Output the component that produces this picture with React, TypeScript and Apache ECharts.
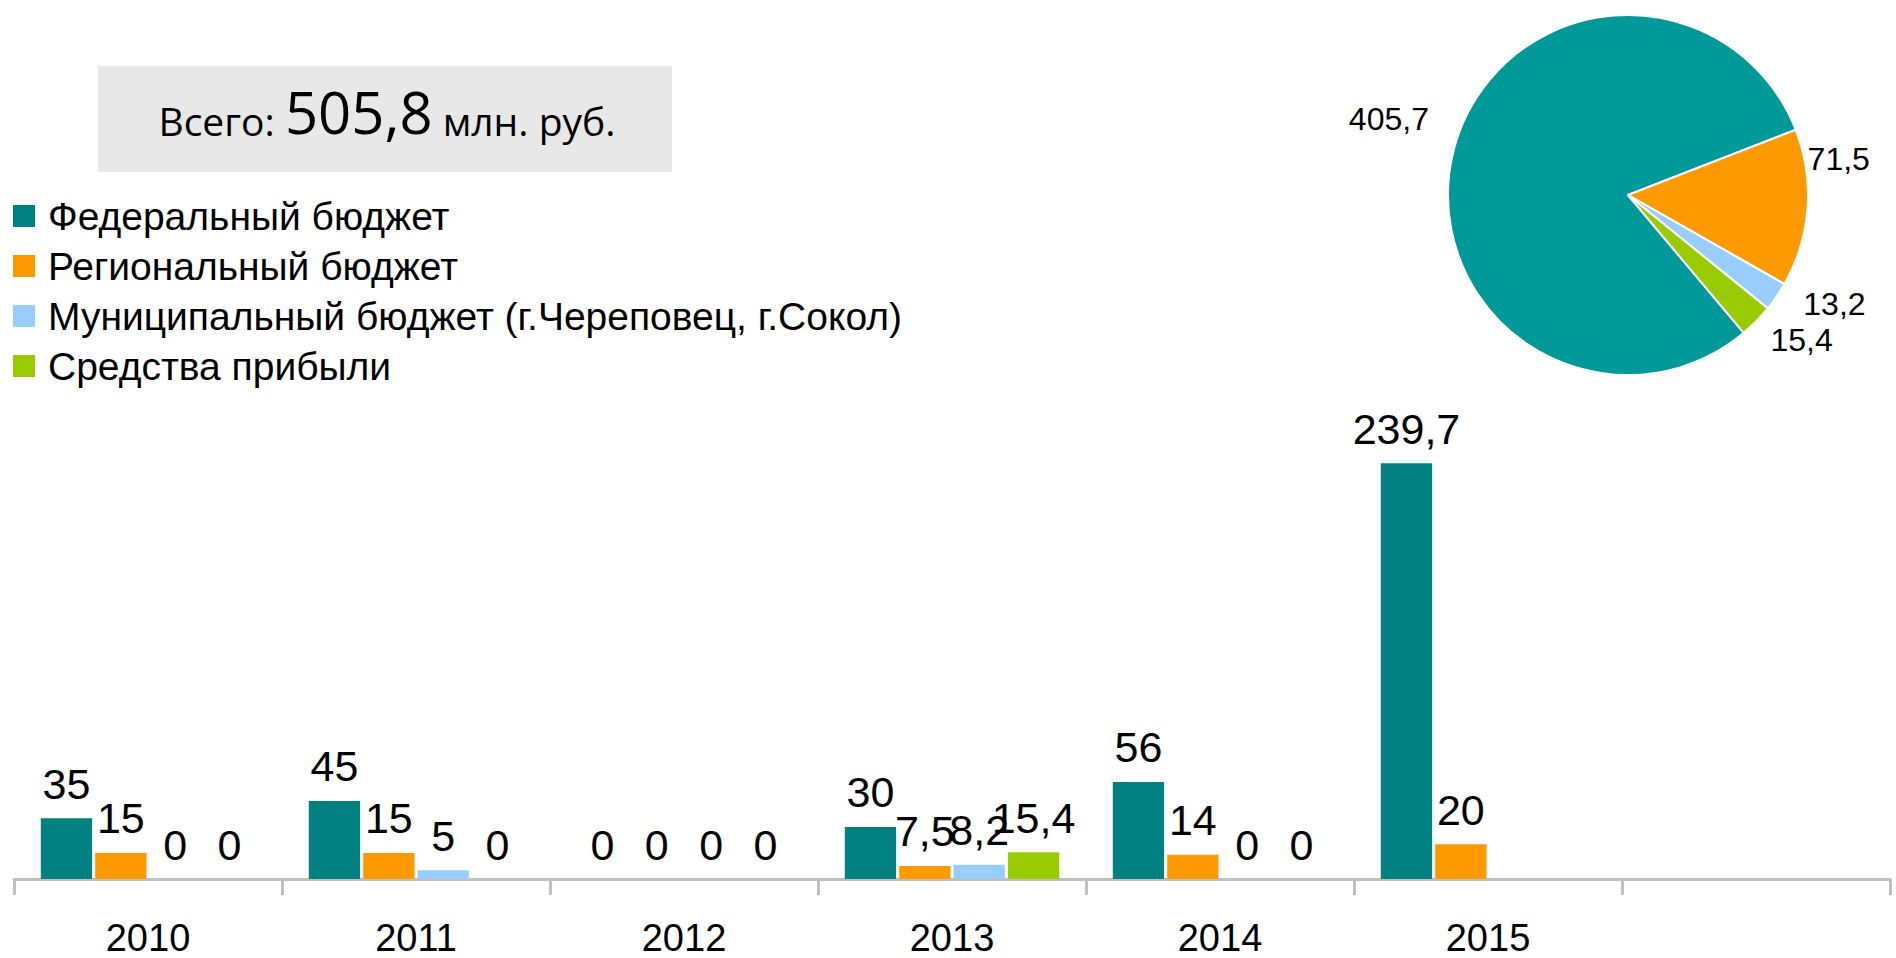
import React, { useEffect, useRef } from "react";
import * as echarts from "echarts";

const categories = ["2010", "2011", "2012", "2013", "2014", "2015", ""];
const seriesNames = [
  "Федеральный бюджет",
  "Региональный бюджет",
  "Муниципальный бюджет (г.Череповец, г.Сокол)",
  "Средства прибыли",
];
const federal = [35, 45, 0, 30, 56, 239.7, null];
const regional = [15, 15, 0, 7.5, 14, 20, null];
const municipal = [0, 5, 0, 8.2, 0, null, null];
const profit = [0, 0, 0, 15.4, 0, null, null];
const pieValues = [405.7, 71.5, 13.2, 15.4];
const barColors = ["#008080", "#FF9900", "#99CCFF", "#99CC00"];
const pieColors = ["#009999", "#FF9900", "#99CCFF", "#99CC00"];
const totalText = ["Всего: ", "505,8", " млн. руб."];
// pie label nudges (dx, dy) to match the reference placement
const pieLabelShift = [
  [-10, -29],
  [-10, -50],
  [12, 2],
  [2, 4],
];

const fmt = (v: any) => String(v).replace(".", ",");
const FONT = "'Liberation Sans', Arial, sans-serif";

export default function App() {
  const ref = useRef<HTMLDivElement>(null);
  useEffect(() => {
    if (!ref.current) return;
    const chart = echarts.init(ref.current, null, { renderer: "svg" });
    const barData = [federal, regional, municipal, profit];
    chart.setOption({
      animation: false,
      backgroundColor: "#ffffff",
      textStyle: { fontFamily: FONT },
      legend: {
        orient: "vertical",
        left: 13,
        top: 196,
        padding: 0,
        itemGap: 10,
        itemWidth: 22,
        itemHeight: 22,
        icon: "rect",
        data: seriesNames,
        textStyle: {
          fontFamily: FONT,
          fontSize: 39,
          color: "#000",
          lineHeight: 40,
          padding: [0, 0, 0, 8],
        },
      },
      grid: { left: 14, right: 6, top: 12, bottom: 79 },
      xAxis: {
        type: "category",
        data: categories,
        axisLine: { lineStyle: { color: "#c0c0c0", width: 3 } },
        axisTick: { show: true, length: 16, lineStyle: { color: "#c0c0c0", width: 3 } },
        axisLabel: { color: "#000", fontSize: 38, fontFamily: FONT, margin: 40 },
      },
      yAxis: {
        type: "value",
        min: 0,
        max: 500,
        show: false,
        splitLine: { show: false },
      },
      series: [
        ...barData.map((d, i) => ({
          type: "bar",
          name: seriesNames[i],
          data: d,
          barGap: "6%",
          barCategoryGap: "20%",
          itemStyle: { color: barColors[i] },
          label: {
            show: true,
            position: "top",
            distance: 13,
            color: "#000",
            fontSize: 43,
            fontFamily: FONT,
            formatter: (p: any) => fmt(p.value),
          },
        })),
        {
          type: "pie",
          center: [1628, 195],
          radius: 180,
          startAngle: 310,
          clockwise: true,
          data: pieValues.map((v, i) => ({
            name: seriesNames[i],
            value: v,
            itemStyle: { color: pieColors[i] },
          })),
          itemStyle: { borderColor: "#fff", borderWidth: 2 },
          label: {
            show: true,
            position: "outside",
            color: "#000",
            fontSize: 32,
            fontFamily: FONT,
            formatter: (p: any) => fmt(p.value),
          },
          labelLine: { show: false, length: 10, length2: 0 },
          labelLayout: (p: any) => ({
            dx: pieLabelShift[p.dataIndex][0],
            dy: pieLabelShift[p.dataIndex][1],
          }),
        },
      ],
      graphic: [
        {
          type: "rect",
          shape: { x: 98, y: 66, width: 574, height: 106 },
          style: { fill: "#e8e8e8" },
          silent: true,
        },
        {
          type: "text",
          x: 387,
          y: 110,
          style: {
            text: `{a|${totalText[0]}}{b|${totalText[1]}}{a|${totalText[2]}}`,
            align: "center",
            verticalAlign: "middle",
            fill: "#000",
            rich: {
              a: { fontFamily: "'Open Sans', sans-serif", fontSize: 39, verticalAlign: "bottom", lineHeight: 60, fill: "#000" },
              b: { fontFamily: "'Open Sans', sans-serif", fontSize: 58, verticalAlign: "bottom", lineHeight: 60, fill: "#000" },
            },
          },
        },
      ],
    });
    return () => chart.dispose();
  }, []);
  return (
    <div
      ref={ref}
      style={{ position: "fixed", left: 0, top: 0, width: 1896, height: 958 }}
    />
  );
}
